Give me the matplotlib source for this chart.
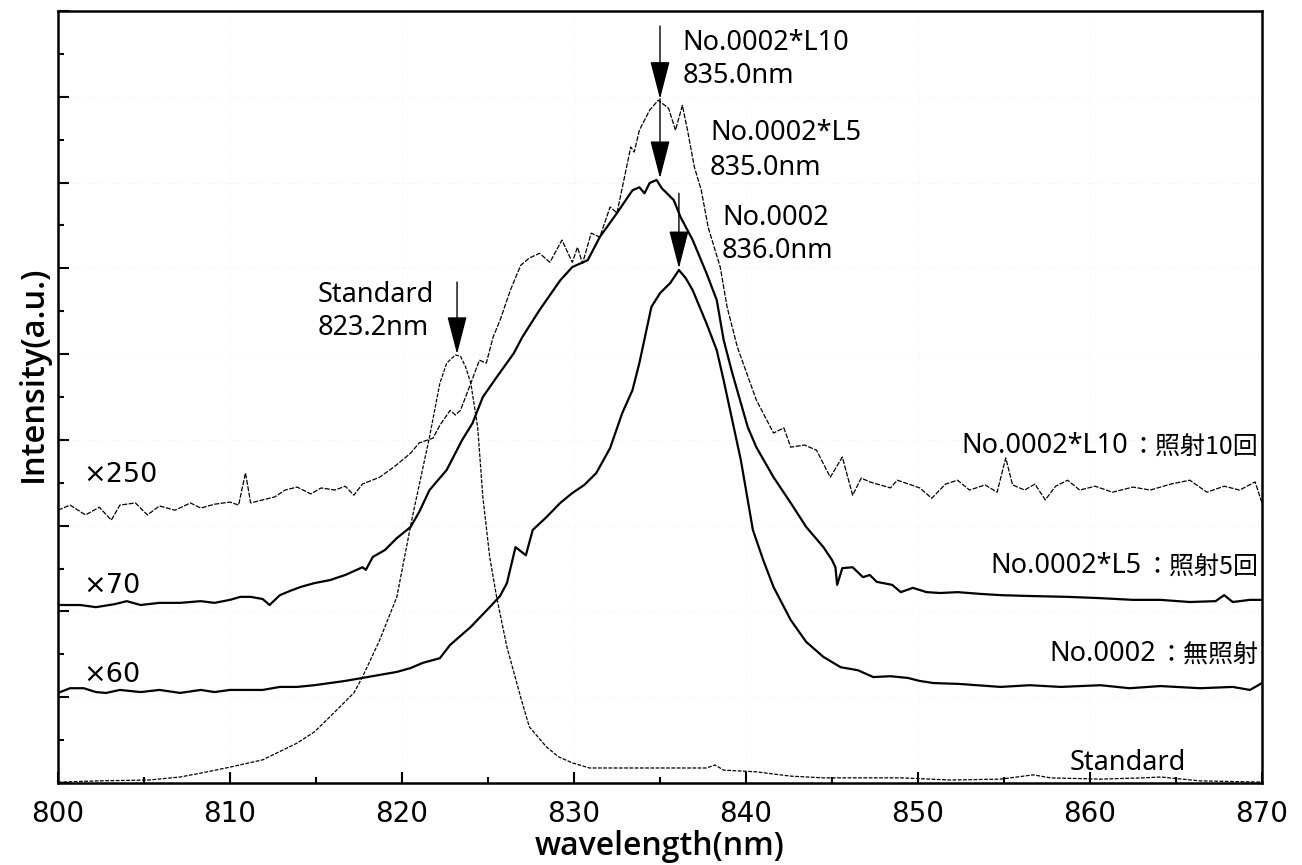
import matplotlib
matplotlib.use("Agg")
import matplotlib.pyplot as plt
from matplotlib.ticker import MultipleLocator, NullFormatter

# ---------------- data ----------------
l10_nm = [800.0, 800.7, 801.6, 802.4, 803.1, 803.6, 804.5, 805.2, 805.9, 806.8, 807.7, 808.3,
          809.1, 810.0, 810.5, 810.9, 811.2, 811.9, 812.6, 813.2, 813.9, 814.7, 815.3, 816.1,
          816.7, 817.2, 817.7, 818.7, 819.6, 820.5, 821.0, 821.8, 822.2, 822.8, 823.1, 823.4,
          824.0, 824.5, 824.9, 825.3, 825.7, 826.3, 826.9, 827.4, 828.0, 828.6, 829.3, 829.9,
          830.2, 830.5, 831.0, 831.5, 832.1, 832.5, 833.3, 833.5, 833.8, 834.4, 834.9, 835.5,
          835.9, 836.3, 836.6, 837.0, 837.4, 837.8, 838.5, 838.9, 839.5, 840.6, 841.6, 842.2,
          842.6, 843.4, 844.1, 844.9, 845.6, 846.2, 846.7, 847.2, 848.4, 848.8, 850.1, 850.8,
          851.6, 852.3, 853.0, 853.9, 854.6, 855.1, 855.5, 856.2, 856.8, 857.4, 858.0, 858.7,
          859.4, 860.3, 861.3, 862.5, 863.5, 864.7, 865.8, 866.8, 867.8, 868.7, 869.6, 870.0]
l10_val = [6.36, 6.48, 6.25, 6.43, 6.13, 6.48, 6.53, 6.25, 6.46, 6.36, 6.53, 6.41,
           6.50, 6.55, 6.48, 7.23, 6.53, 6.60, 6.67, 6.83, 6.90, 6.74, 6.88, 6.83,
           6.92, 6.71, 6.97, 7.13, 7.39, 7.69, 7.93, 8.04, 8.34, 8.69, 8.58, 8.69,
           9.32, 9.86, 9.79, 10.40, 10.79, 11.49, 12.07, 12.24, 12.35, 12.14, 12.66, 12.14,
           12.49, 12.12, 12.82, 12.73, 13.43, 13.29, 14.83, 14.71, 15.22, 15.69, 15.92, 15.73,
           15.22, 15.80, 15.22, 14.36, 13.82, 12.96, 12.03, 11.10, 10.16, 8.93, 8.16, 8.28,
           7.83, 7.88, 7.76, 7.13, 7.60, 6.71, 7.11, 7.02, 6.88, 7.06, 6.88, 6.64,
           6.97, 7.06, 6.83, 6.95, 6.78, 7.58, 6.95, 6.83, 6.97, 6.60, 6.92, 7.06,
           6.83, 6.92, 6.78, 6.90, 6.83, 6.97, 7.06, 6.78, 6.92, 6.83, 7.02, 6.53]

l5_nm = [800.0, 801.3, 802.2, 803.3, 804.0, 804.8, 805.9, 807.1, 808.3, 809.1, 810.0, 810.6,
         811.2, 811.9, 812.3, 812.9, 813.5, 814.1, 814.9, 815.8, 816.7, 817.7, 817.9, 818.3,
         819.0, 819.7, 820.5, 821.0, 821.6, 822.6, 823.5, 824.1, 824.7, 825.5, 826.5, 827.0,
         828.0, 829.2, 829.9, 830.8, 831.5, 832.5, 833.4, 833.8, 834.1, 834.4, 834.8, 835.1,
         835.4, 835.8, 836.2, 836.9, 837.7, 838.3, 838.7, 839.2, 840.1, 840.6, 841.6, 842.6,
         843.5, 844.5, 845.0, 845.2, 845.3, 845.6, 846.2, 846.8, 847.2, 847.6, 848.5, 849.0,
         849.7, 850.5, 851.3, 852.3, 853.6, 854.8, 856.5, 858.7, 860.6, 862.5, 864.1, 865.8,
         867.3, 867.8, 868.3, 869.3, 870.0]
l5_val = [4.15, 4.15, 4.10, 4.17, 4.24, 4.15, 4.20, 4.20, 4.24, 4.20, 4.27, 4.34,
          4.34, 4.29, 4.15, 4.38, 4.48, 4.57, 4.66, 4.73, 4.85, 5.03, 4.97, 5.27,
          5.43, 5.71, 5.97, 6.32, 6.83, 7.30, 8.00, 8.39, 9.00, 9.46, 10.02, 10.40,
          11.03, 11.72, 12.03, 12.19, 12.73, 13.29, 13.82, 13.89, 13.75, 13.99, 14.06, 13.87,
          13.75, 13.59, 13.19, 12.66, 11.89, 11.26, 10.33, 9.56, 8.30, 7.83, 7.13, 6.53,
          5.97, 5.50, 5.20, 5.03, 4.62, 5.01, 5.03, 4.80, 4.85, 4.69, 4.62, 4.45,
          4.55, 4.45, 4.43, 4.45, 4.41, 4.38, 4.36, 4.34, 4.31, 4.27, 4.27, 4.22,
          4.24, 4.38, 4.22, 4.27, 4.27]

n0_nm = [800.0, 800.7, 801.5, 802.2, 802.8, 803.6, 804.8, 805.9, 807.1, 808.3, 809.1, 810.0,
         811.2, 811.9, 812.9, 813.9, 814.9, 815.8, 816.7, 817.7, 818.7, 819.7, 820.5, 821.2,
         822.2, 822.8, 823.4, 824.0, 824.5, 825.1, 825.7, 826.1, 826.6, 827.2, 827.6, 828.4,
         829.2, 829.9, 830.6, 831.3, 832.1, 832.8, 833.4, 833.8, 834.5, 835.0, 835.6, 836.1,
         836.5, 836.9, 837.7, 838.3, 838.7, 839.2, 839.7, 840.1, 840.4, 841.0, 841.6, 842.6,
         843.5, 844.5, 845.5, 846.5, 847.4, 848.4, 849.4, 850.1, 850.9, 852.4, 854.8, 856.5,
         858.3, 860.6, 862.3, 864.1, 866.4, 868.3, 869.3, 870.0]
n0_val = [2.10, 2.21, 2.21, 2.12, 2.10, 2.17, 2.12, 2.17, 2.10, 2.17, 2.12, 2.17,
          2.17, 2.17, 2.24, 2.24, 2.28, 2.33, 2.38, 2.45, 2.52, 2.59, 2.68, 2.80,
          2.91, 3.22, 3.43, 3.64, 3.85, 4.10, 4.36, 4.66, 5.50, 5.31, 5.90, 6.20,
          6.53, 6.76, 6.95, 7.23, 7.81, 8.62, 9.16, 9.79, 11.10, 11.42, 11.66, 11.96,
          11.77, 11.49, 10.72, 10.09, 9.39, 8.46, 7.53, 6.60, 5.90, 5.20, 4.57, 3.80,
          3.29, 2.94, 2.70, 2.63, 2.47, 2.49, 2.45, 2.38, 2.33, 2.31, 2.24, 2.28,
          2.24, 2.28, 2.21, 2.26, 2.21, 2.24, 2.17, 2.33]

std_nm = [800.0, 802.4, 805.3, 807.1, 808.3, 810.0, 811.9, 813.9, 814.9, 815.8, 817.2, 817.7,
          818.7, 819.7, 820.6, 821.6, 822.2, 822.6, 823.1, 823.4, 823.7, 824.0, 824.4, 824.7,
          825.1, 825.5, 826.1, 826.9, 827.4, 828.4, 829.1, 829.9, 830.9, 834.4, 837.7, 838.2,
          838.7, 840.6, 842.6, 844.5, 846.6, 849.0, 851.9, 854.8, 856.7, 857.7, 860.6, 863.1,
          864.1, 866.4, 870.0]
std_val = [0.02, 0.05, 0.07, 0.14, 0.23, 0.37, 0.54, 0.93, 1.19, 1.54, 2.10, 2.47,
           3.33, 4.34, 6.20, 8.07, 9.32, 9.79, 9.98, 9.95, 9.70, 9.32, 8.30, 6.67,
           5.27, 4.34, 3.17, 2.00, 1.31, 0.84, 0.61, 0.47, 0.35, 0.35, 0.35, 0.42,
           0.30, 0.26, 0.16, 0.12, 0.12, 0.12, 0.07, 0.09, 0.19, 0.12, 0.09, 0.12,
           0.14, 0.05, 0.02]

# peak annotations: (tip wavelength, tip value, tail value, label lines)
peak_nm = [823.2, 835.0, 835.0, 836.1]
peak_tip = [10.0, 15.95, 14.1, 12.0]
peak_tail = [11.68, 17.65, 15.95, 13.75]
peak_lines = [("Standard", "823.2nm"), ("No.0002*L10", "835.0nm"),
              ("No.0002*L5", "835.0nm"), ("No.0002", "836.0nm")]
peak_text_x = [815.1, 836.3, 837.9, 838.6]
peak_text_y = [(11.21, 10.44), (17.09, 16.32), (14.99, 14.17), (13.01, 12.24)]

right_latin = ["No.0002*L10", "No.0002*L5", "No.0002"]
right_jp = ["：照射10回", "：照射5回", "：無照射"]
right_y = [7.65, 4.85, 2.80]

scale_labels = ["×250", "×70", "×60"]
scale_y = [7.02, 4.43, 2.35]

xticks = [800, 810, 820, 830, 840, 850, 860, 870]

# ---------------- figure ----------------
LAT = ["Noto Sans", "DejaVu Sans"]
JP = ["Noto Sans CJK JP", "DejaVu Sans"]
NUM = ["DejaVu Sans"]
AXL = ["Open Sans", "Noto Sans", "DejaVu Sans"]

fig = plt.figure(figsize=(13.02, 8.65), dpi=100)
ax = fig.add_axes([58 / 1302, 1 - 783 / 865, (1262 - 58) / 1302, (783 - 11) / 865])

ax.plot(std_nm, std_val, color="k", lw=0.9, ls=(0, (3, 1.2)))
ax.plot(l10_nm, l10_val, color="k", lw=0.9, ls=(0, (4, 1.2)))
ax.plot(l5_nm, l5_val, color="k", lw=1.6)
ax.plot(n0_nm, n0_val, color="k", lw=1.6)

ax.set_xlim(800, 870)
ax.set_ylim(0, 18)
ax.set_xticks(xticks)
ax.xaxis.set_minor_locator(MultipleLocator(5))
ax.yaxis.set_major_locator(MultipleLocator(2))
ax.yaxis.set_minor_locator(MultipleLocator(1))
ax.yaxis.set_major_formatter(NullFormatter())
ax.tick_params(which="both", direction="in", top=False, right=False, width=1.5)
ax.tick_params(which="major", length=8, pad=12)
ax.tick_params(which="minor", length=4.5)
for lab in ax.get_xticklabels():
    lab.set_fontfamily(NUM)
    lab.set_fontsize(20)
for sp in ax.spines.values():
    sp.set_linewidth(1.8)

ax.grid(True, which="major", color="#e2e2e2", lw=0.6, ls=(0, (1, 5)))

ax.set_xlabel("wavelength(nm)", fontsize=23, family=AXL, fontweight="semibold", labelpad=2)
ax.set_ylabel("Intensity(a.u.)", fontsize=23.5, family=AXL, fontweight="semibold")
ax.yaxis.set_label_coords(-0.007, 0.53)

# peak arrows and labels
for xn, tip, tail, lines, tx, ty in zip(peak_nm, peak_tip, peak_tail, peak_lines,
                                        peak_text_x, peak_text_y):
    ax.annotate("", xy=(xn, tip), xytext=(xn, tail),
                arrowprops=dict(arrowstyle="-|>,head_length=2.4,head_width=0.62",
                                mutation_scale=10, lw=1.0, color="k",
                                shrinkA=0, shrinkB=0))
    for line, yy in zip(lines, ty):
        ax.text(tx, yy, line, fontsize=19.5, family=LAT, ha="left", va="baseline")

# right-side series labels
for lat, jp, yy in zip(right_latin, right_jp, right_y):
    t = ax.text(869.8, yy, jp, fontsize=18, family=JP, ha="right", va="baseline")
    ax.annotate(lat, xy=(0, 0.02), xycoords=t, xytext=(-2, 0), textcoords="offset points",
                fontsize=19.5, family=LAT, ha="right", va="bottom")

ax.text(865.6, 0.30, "Standard", fontsize=19.5, family=LAT, ha="right", va="baseline")

# magnification labels
for s, yy in zip(scale_labels, scale_y):
    ax.text(801.45, yy, s, fontsize=19.5, family=NUM, ha="left", va="baseline")

fig.savefig("out.png", dpi=100, facecolor="white")
